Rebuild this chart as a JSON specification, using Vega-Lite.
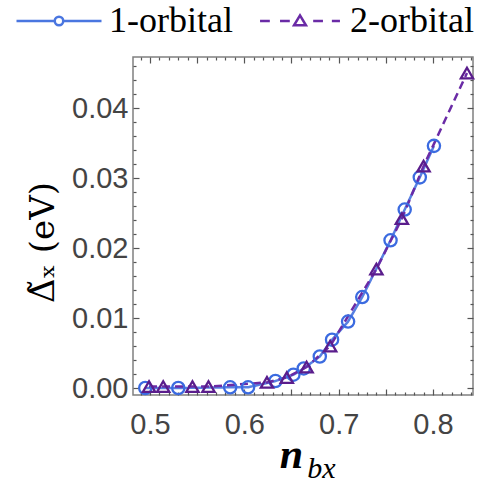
{
  "$schema": "https://vega.github.io/schema/vega-lite/v6.json",
  "width": 340,
  "height": 338,
  "autosize": {"type": "none"},
  "padding": {"left": 133, "top": 57, "right": 14, "bottom": 89},
  "background": "white",
  "config": {
    "view": {"stroke": "#808080", "strokeWidth": 1.5},
    "axis": {"domain": false, "grid": false, "tickColor": "#555555", "tickWidth": 1.2, "labelColor": "#444444", "labelFont": "Liberation Sans", "labelFontSize": 29}
  },
  "data": {"values": [
    {"series": "1-orbital", "x": 0.495, "y": 0.0000},
    {"series": "1-orbital", "x": 0.530, "y": 0.0000},
    {"series": "1-orbital", "x": 0.585, "y": 0.0001},
    {"series": "1-orbital", "x": 0.604, "y": 0.0001},
    {"series": "1-orbital", "x": 0.633, "y": 0.0010},
    {"series": "1-orbital", "x": 0.652, "y": 0.0019},
    {"series": "1-orbital", "x": 0.663, "y": 0.0028},
    {"series": "1-orbital", "x": 0.680, "y": 0.0045},
    {"series": "1-orbital", "x": 0.693, "y": 0.0069},
    {"series": "1-orbital", "x": 0.710, "y": 0.0095},
    {"series": "1-orbital", "x": 0.725, "y": 0.0130},
    {"series": "1-orbital", "x": 0.755, "y": 0.0211},
    {"series": "1-orbital", "x": 0.770, "y": 0.0255},
    {"series": "1-orbital", "x": 0.786, "y": 0.0301},
    {"series": "1-orbital", "x": 0.801, "y": 0.0346},
    {"series": "2-orbital", "x": 0.499, "y": 0.0002},
    {"series": "2-orbital", "x": 0.514, "y": 0.0002},
    {"series": "2-orbital", "x": 0.545, "y": 0.0002},
    {"series": "2-orbital", "x": 0.562, "y": 0.0002},
    {"series": "2-orbital", "x": 0.624, "y": 0.0008},
    {"series": "2-orbital", "x": 0.645, "y": 0.0015},
    {"series": "2-orbital", "x": 0.666, "y": 0.0030},
    {"series": "2-orbital", "x": 0.691, "y": 0.0060},
    {"series": "2-orbital", "x": 0.740, "y": 0.0170},
    {"series": "2-orbital", "x": 0.767, "y": 0.0242},
    {"series": "2-orbital", "x": 0.790, "y": 0.0317},
    {"series": "2-orbital", "x": 0.836, "y": 0.0450}
  ]},
  "resolve": {"axis": {"x": "independent", "y": "independent"}, "scale": {"color": "independent", "shape": "independent", "strokeDash": "independent"}},
  "layer": [
    {
      "mark": {"type": "line", "strokeWidth": 2.5},
      "encoding": {
        "x": {"field": "x", "type": "quantitative",
          "scale": {"domain": [0.482, 0.8424], "nice": false, "zero": false},
          "axis": {"orient": "bottom",
            "values": [0.49,0.5,0.51,0.52,0.53,0.54,0.55,0.56,0.57,0.58,0.59,0.6,0.61,0.62,0.63,0.64,0.65,0.66,0.67,0.68,0.69,0.7,0.71,0.72,0.73,0.74,0.75,0.76,0.77,0.78,0.79,0.8,0.81,0.82,0.83,0.84],
            "labelExpr": "round(datum.value*100) % 10 == 0 ? format(datum.value, '.1f') : ''",
            "tickSize": {"condition": {"test": "round(datum.value*100) % 5 == 0", "value": -6}, "value": -3},
            "labelPadding": 21, "labelFlush": false,
            "title": "n", "titleFont": "Liberation Serif", "titleFontSize": 42, "titleFontStyle": "italic", "titleFontWeight": "bold", "titleColor": "black",
            "titleX": 158, "titleY": 72, "titleBaseline": "alphabetic", "titleAlign": "center"}},
        "y": {"field": "y", "type": "quantitative",
          "scale": {"domain": [-0.001, 0.0473], "nice": false, "zero": false},
          "axis": {"orient": "left",
            "values": [0,0.002,0.004,0.006,0.008,0.01,0.012,0.014,0.016,0.018,0.02,0.022,0.024,0.026,0.028,0.03,0.032,0.034,0.036,0.038,0.04,0.042,0.044,0.046],
            "labelExpr": "round(datum.value*1000) % 10 == 0 ? format(datum.value, '.2f') : ''",
            "tickSize": {"condition": {"test": "round(datum.value*1000) % 10 == 0", "value": -6}, "value": -3},
            "labelPadding": 11, "labelFlush": false,
            "title": "Δ̃ₓ (eV)", "titleFont": "DejaVu Serif", "titleFontSize": 34, "titleFontWeight": "normal", "titleColor": "black",
            "titleX": -80, "titleY": 185, "titleBaseline": "alphabetic", "titleAlign": "center", "titleAngle": 270}},
        "color": {"field": "series", "type": "nominal", "scale": {"domain": ["1-orbital", "2-orbital"], "range": ["#5880e2", "#6a2ba6"]}, "legend": null},
        "strokeDash": {"field": "series", "type": "nominal", "scale": {"domain": ["1-orbital", "2-orbital"], "range": [[1, 0], [8, 5]]}, "legend": null}
      }
    },
    {
      "mark": {"type": "point", "filled": false, "strokeWidth": 2.3, "size": 150, "opacity": 1},
      "encoding": {
        "x": {"field": "x", "type": "quantitative",
          "axis": {"orient": "top",
            "values": [0.49,0.5,0.51,0.52,0.53,0.54,0.55,0.56,0.57,0.58,0.59,0.6,0.61,0.62,0.63,0.64,0.65,0.66,0.67,0.68,0.69,0.7,0.71,0.72,0.73,0.74,0.75,0.76,0.77,0.78,0.79,0.8,0.81,0.82,0.83,0.84],
            "labels": false, "title": null,
            "tickSize": {"condition": {"test": "round(datum.value*100) % 5 == 0", "value": -6}, "value": -3}}},
        "y": {"field": "y", "type": "quantitative",
          "axis": {"orient": "right",
            "values": [0,0.002,0.004,0.006,0.008,0.01,0.012,0.014,0.016,0.018,0.02,0.022,0.024,0.026,0.028,0.03,0.032,0.034,0.036,0.038,0.04,0.042,0.044,0.046],
            "labels": false, "title": null,
            "tickSize": {"condition": {"test": "round(datum.value*1000) % 10 == 0", "value": -6}, "value": -3}}},
        "color": {"field": "series", "type": "nominal", "scale": {"domain": ["1-orbital", "2-orbital"], "range": ["#3b6be0", "#5a1d8c"]}, "legend": null},
        "shape": {"field": "series", "type": "nominal", "scale": {"domain": ["1-orbital", "2-orbital"], "range": ["circle", "triangle-up"]}, "legend": null}
      }
    },
    {
      "mark": {"type": "point", "filled": false, "opacity": 0, "strokeWidth": 2.5},
      "encoding": {
        "x": {"field": "x", "type": "quantitative",
          "axis": {"orient": "bottom", "ticks": false, "labels": false, "domain": false,
            "title": "bx", "titleFont": "Liberation Serif", "titleFontSize": 30, "titleFontStyle": "italic", "titleFontWeight": "normal", "titleColor": "black",
            "titleX": 188, "titleY": 82, "titleBaseline": "alphabetic", "titleAlign": "center"}},
        "y": {"field": "y", "type": "quantitative", "axis": null},
        "color": {"field": "series", "type": "nominal", "scale": {"domain": ["1-orbital", "2-orbital"], "range": ["#4a76e0", "#6a2ba6"]},
          "legend": {"orient": "none", "legendX": -118, "legendY": -80, "direction": "horizontal", "columns": 2, "title": null,
            "symbolSize": 7225, "symbolStrokeWidth": 2.5, "symbolOpacity": 1, "symbolFillColor": "transparent",
            "labelFont": "Liberation Serif", "labelFontSize": 36, "labelColor": "black", "labelOffset": 6, "columnPadding": 22, "padding": 0, "labelLimit": 400}},
        "shape": {"field": "series", "type": "nominal",
          "scale": {"domain": ["1-orbital", "2-orbital"], "range": [
            "M-1,0H-0.1M0.1,0H1M-0.1,0A0.1,0.1 0 1,0 0.1,0A0.1,0.1 0 1,0 -0.1,0",
            "M-0.94,0H-0.71M-0.47,0H-0.24M0.31,0H0.54M0.75,0H0.94M0,-0.13L0.14,0.1L-0.14,0.1Z"]},
          "legend": {"orient": "none", "legendX": -118, "legendY": -80, "direction": "horizontal", "columns": 2, "title": null,
            "symbolSize": 7225, "symbolStrokeWidth": 2.5, "symbolOpacity": 1, "symbolFillColor": "transparent",
            "labelFont": "Liberation Serif", "labelFontSize": 36, "labelColor": "black", "labelOffset": 6, "columnPadding": 22, "padding": 0, "labelLimit": 400}}
      }
    }
  ]
}
